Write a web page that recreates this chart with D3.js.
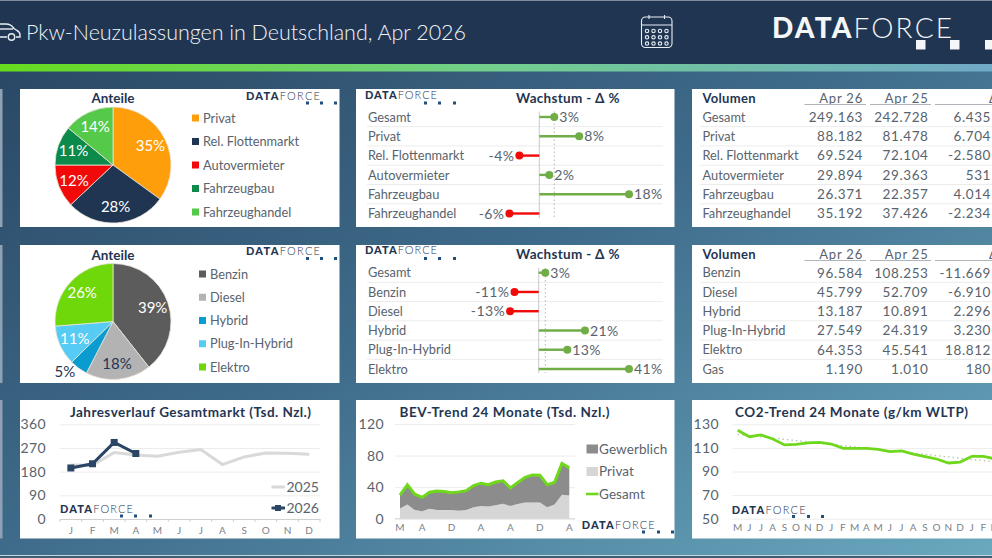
<!DOCTYPE html>
<html lang="de">
<head>
<meta charset="utf-8">
<title>Pkw-Neuzulassungen in Deutschland, Apr 2026</title>
<script src="https://cdn.jsdelivr.net/npm/d3@7/dist/d3.min.js"></script>
<style>
html,body{margin:0;padding:0;background:#1f3552;overflow:hidden}
svg{display:block}
text{font-family:Lato,"Open Sans",sans-serif}
</style>
</head>
<body>
<svg id="board" width="992" height="558"></svg>
<script>
// Market segments
const marketLabels = ["Privat","Rel. Flottenmarkt","Autovermieter","Fahrzeugbau","Fahrzeughandel"];
const marketShares = [35,28,12,11,14];
const marketColors = ["#ff9e0b","#1f3552","#f20a0a","#0b8a4b","#55c94a"];
const marketGrowthLabels = ["Gesamt","Privat","Rel. Flottenmarkt","Autovermieter","Fahrzeugbau","Fahrzeughandel"];
const marketGrowth = [3,8,-4,2,18,-6];
const marketApr26 = [249163,88182,69524,29894,26371,35192];
const marketApr25 = [242728,81478,72104,29363,22357,37426];
const marketDiff = [6435,6704,-2580,531,4014,-2234];

// Fuel types
const fuelLabels = ["Benzin","Diesel","Hybrid","Plug-In-Hybrid","Elektro"];
const fuelShares = [39,18,5,11,26];
const fuelColors = ["#5c5c5c","#b3b3b3","#0a9bd0","#56ccf5","#6fd80a"];
const fuelGrowthLabels = ["Gesamt","Benzin","Diesel","Hybrid","Plug-In-Hybrid","Elektro"];
const fuelGrowth = [3,-11,-13,21,13,41];
const fuelTableLabels = ["Benzin","Diesel","Hybrid","Plug-In-Hybrid","Elektro","Gas"];
const fuelApr26 = [96584,45799,13187,27549,64353,1190];
const fuelApr25 = [108253,52709,10891,24319,45541,1010];
const fuelDiff = [-11669,-6910,2296,3230,18812,180];

// Yearly course of the total market
const yearMonths = ["J","F","M","A","M","J","J","A","S","O","N","D"];
const total2025 = [205,204,253,243,239,254,264,207,236,251,250,246];
const total2026 = [194,210,291,249];
const totalTicks = [0,90,180,270,360];

// BEV over 24 months
const bevPrivat = [13,18,11,9.5,12.5,11,11,11,10,11,14.5,16,15.5,17,19,16,18.5,20.5,20.5,20.5,14.5,18,30.5,29.5];
const bevGewerblich = [17,25,20,17.5,21,24,23.5,22,24,24.5,27.5,29,27.5,29.5,29,23,27.5,32,35,34.5,28.5,28,39.5,34.9];
const bevGesamt = [30,43,31,27,33.5,35,34.5,33,34,35.5,42,45,43,46.5,48,39,46,52.5,55.5,55,43,46,70,64.4];
const bevTicks = [0,40,80,120];
const bevTickLabels = [["M",0],["A",3],["D",7],["A",11],["A",15],["D",19],["A",23]];

// CO2 over 24 months
const co2Months = ["M","J","J","A","S","O","N","D","J","F","M","A","M","J","J","A","S","O","N","D","J","F","M","A"];
const co2Values = [124.9,119.5,121,117.5,112.5,113,114.2,114.7,113.3,109.6,109.6,109.6,108.8,106.8,107.4,104.8,102.6,100.6,97.2,98,102.9,102.9,100.6,100];
const co2Trend = [[0,121.5],[23,97]];
const co2Ticks = [50,70,90,110,130];

const navy = "#1f3552", ink = "#59636d", rule = "#ececec", logoDots = "#1f5080";
const svg = d3.select("#board");
const defs = svg.append("defs");

const backdrop = defs.append("linearGradient").attr("id","backdrop")
  .attr("x1","0").attr("y1","0").attr("x2","1").attr("y2","1");
backdrop.append("stop").attr("offset","0").attr("stop-color","#274360");
backdrop.append("stop").attr("offset","0.5").attr("stop-color","#3f6c8b");
backdrop.append("stop").attr("offset","1").attr("stop-color","#6aa9bf");

const stripe = defs.append("linearGradient").attr("id","stripe");
stripe.append("stop").attr("offset","0").attr("stop-color","#66dc1e");
stripe.append("stop").attr("offset","0.5").attr("stop-color","#72cf8e");
stripe.append("stop").attr("offset","1").attr("stop-color","#6fa9c6");

svg.append("rect").attr("width",992).attr("height",558).attr("fill","url(#backdrop)");
svg.append("rect").attr("width",992).attr("height",64).attr("fill",navy);
svg.append("rect").attr("width",992).attr("height",1).attr("fill","#7d8b9b");
svg.append("rect").attr("y",64).attr("width",992).attr("height",7.5).attr("fill","url(#stripe)");
svg.append("rect").attr("y",555).attr("width",992).attr("height",1).attr("fill","#c7d6de");
svg.append("rect").attr("y",556).attr("width",992).attr("height",2).attr("fill","#3c5f78");

// Header
function drawCar(){
  const g = svg.append("g").attr("fill","none").attr("stroke","#e9eef3").attr("stroke-width",1.4);
  g.append("path").attr("d","M0 24 H6 Q11 24 14 28.5 L17 30.5 Q20 32 20 35 V37 H16 M7 37 H0");
  g.append("path").attr("d","M0 29 H13");
  g.append("circle").attr("cx",11.5).attr("cy",37).attr("r",3.2);
}
function drawCalendar(){
  const g = svg.append("g").attr("fill","none").attr("stroke","#e9eef3").attr("stroke-width",1.1);
  g.append("rect").attr("x",641.5).attr("y",17).attr("width",30.5).attr("height",30.5).attr("rx",4);
  g.append("path").attr("d","M641.5 25 H672 M649 15 V19 M664.5 15 V19");
  d3.range(3).forEach(r => d3.range(4).forEach(c => {
    g.append("circle").attr("cx",647 + c*6.5).attr("cy",31 + r*6.3).attr("r",1.7);
  }));
}
drawCar();
drawCalendar();
svg.append("text").attr("x",26).attr("y",40).attr("fill","#f0f3f6").attr("font-weight",300)
  .attr("font-size",21.5).attr("textLength",440).attr("lengthAdjust","spacing")
  .text("Pkw-Neuzulassungen in Deutschland, Apr 2026");

// Wordmark: heavy DATA, thin FORCE and three squares trailing under it
function logo(x, baseline, width, size, squares, squareY, square, color, dotColor){
  const t = svg.append("text").attr("x",x).attr("y",baseline).attr("fill",color)
    .attr("font-size",size).attr("textLength",width).attr("lengthAdjust","spacing");
  t.append("tspan").attr("font-weight",900).text("DATA");
  t.append("tspan").attr("font-weight",300).text("FORCE");
  svg.selectAll(null).data(squares).join("rect")
    .attr("x",d => d).attr("y",squareY).attr("width",square).attr("height",square).attr("fill",dotColor);
}

// White panels, with the neighbouring panel just peeking in at the left edge
const panelColumns = [[20,319.5],[356,318.5],[692,300]];
const panelRows = [[89,138],[245,138],[400,138.5]];
panelRows.forEach(([y,h]) => {
  svg.append("rect").attr("x",0).attr("y",y).attr("width",2.5).attr("height",h).attr("fill","#8ea2b4");
  panelColumns.forEach(([x,w]) => {
    svg.append("rect").attr("x",x).attr("y",y).attr("width",w).attr("height",h).attr("fill","#ffffff");
  });
});

logo(772,38,180,28,[916,950,985],40,9.5,"#f4f6f8","#f4f6f8");

function pie(cx, cy, labels, shares, colors, darkLabels, outsideIndex, legendX, legendY){
  const slices = d3.pie().sort(null)(shares);
  const arc = d3.arc().innerRadius(0).outerRadius(58);
  const labelArc = d3.arc().innerRadius(42).outerRadius(42);
  const outerArc = d3.arc().innerRadius(66).outerRadius(66);
  const place = (d,i) => {
    if (i !== outsideIndex) return labelArc.centroid(d);
    const [px,py] = outerArc.centroid(d);
    return [px - 9, py - 3];
  };
  const g = svg.append("g").attr("transform",`translate(${cx},${cy})`);
  g.selectAll("path").data(slices).join("path")
    .attr("d",arc).attr("fill",(d,i) => colors[i]).attr("stroke","#e9e4d8").attr("stroke-width",0.8);
  g.selectAll("text").data(slices).join("text")
    .attr("transform",(d,i) => `translate(${place(d,i)})`)
    .attr("text-anchor","middle").attr("dy","0.36em").attr("font-size",15)
    .attr("fill",(d,i) => (darkLabels.includes(i) ? navy : "#ffffff"))
    .text(d => d.data + "%");
  const lg = svg.append("g");
  const y = d3.scalePoint().domain(labels).range(legendY);
  lg.selectAll("rect").data(labels).join("rect")
    .attr("x",legendX).attr("y",d => y(d) - 3.5).attr("width",7).attr("height",7)
    .attr("fill",(d,i) => colors[i]);
  lg.selectAll("text").data(labels).join("text")
    .attr("x",legendX + 11).attr("y",d => y(d)).attr("dy","0.36em")
    .attr("font-size",12.8).attr("fill",ink).text(d => d);
  svg.append("text").attr("x",cx).attr("y",cy - 62).attr("text-anchor","middle")
    .attr("font-size",13.5).attr("font-weight",700).attr("fill",navy).text("Anteile");
}

function lollipop(labels, values, x, yRange, axisTop, axisBottom, refValue, titleY){
  const y = d3.scalePoint().domain(labels).range(yRange);
  const step = y.step();
  const g = svg.append("g");
  g.selectAll("line.sep").data(labels.slice(1)).join("line").attr("class","sep")
    .attr("x1",367).attr("x2",663).attr("y1",d => y(d) - step/2).attr("y2",d => y(d) - step/2)
    .attr("stroke",rule);
  g.selectAll("text.cat").data(labels).join("text").attr("class","cat")
    .attr("x",368).attr("y",d => y(d)).attr("dy","0.36em")
    .attr("font-size",12.8).attr("fill",ink).text(d => d);
  g.append("line").attr("x1",x(0)).attr("x2",x(0)).attr("y1",axisTop).attr("y2",axisBottom).attr("stroke","#c9c9c9");
  g.append("line").attr("x1",x(refValue)).attr("x2",x(refValue)).attr("y1",axisTop).attr("y2",axisBottom)
    .attr("stroke","#b5b5b5").attr("stroke-width",1).attr("stroke-dasharray","1.5 2.5");
  const colour = v => (v < 0 ? "#f00a0a" : "#70ad47");
  g.selectAll("line.stem").data(values).join("line").attr("class","stem")
    .attr("x1",x(0)).attr("x2",d => x(d))
    .attr("y1",(d,i) => y(labels[i])).attr("y2",(d,i) => y(labels[i]))
    .attr("stroke",colour).attr("stroke-width",2.4);
  g.selectAll("circle").data(values).join("circle")
    .attr("cx",d => x(d)).attr("cy",(d,i) => y(labels[i])).attr("r",4)
    .attr("fill",colour);
  g.selectAll("text.val").data(values).join("text").attr("class","val")
    .attr("x",d => x(d) + (d < 0 ? -5 : 5)).attr("y",(d,i) => y(labels[i])).attr("dy","0.36em")
    .attr("text-anchor",d => (d < 0 ? "end" : "start"))
    .attr("font-size",14).attr("letter-spacing",0.4).attr("fill",ink).text(d => d + "%");
  svg.append("text").attr("x",516).attr("y",titleY).attr("font-size",13.5).attr("font-weight",700)
    .attr("letter-spacing",0.3).attr("fill",navy).text("Wachstum - Δ %");
}

const de = d3.formatLocale({decimal:",",thousands:".",grouping:[3],currency:["","€"],minus:"-"});
const num = de.format(",d");

function table(labels, apr26, apr25, diff, yRange, titleY){
  const y = d3.scalePoint().domain(labels).range(yRange);
  const step = y.step();
  const g = svg.append("g");
  g.selectAll("line").data(labels.slice(1)).join("line")
    .attr("x1",700).attr("x2",992).attr("y1",d => y(d) - step/2).attr("y2",d => y(d) - step/2)
    .attr("stroke",rule);
  g.selectAll("text.row").data(labels).join("text").attr("class","row")
    .attr("x",702.5).attr("y",d => y(d)).attr("dy","0.36em")
    .attr("font-size",12.8).attr("fill",ink).text(d => d);
  [[apr26,863],[apr25,928.5],[diff,991]].forEach(([column,right]) => {
    g.selectAll(null).data(column).join("text")
      .attr("x",right).attr("y",(d,i) => y(labels[i])).attr("dy","0.36em")
      .attr("text-anchor","end").attr("font-size",13.5).attr("letter-spacing",0.6)
      .attr("fill",ink).text(d => num(d));
  });
  svg.append("text").attr("x",702.5).attr("y",titleY).attr("font-size",13).attr("font-weight",700)
    .attr("letter-spacing",0.3).attr("fill",navy).text("Volumen");
  [["Apr 26",863],["Apr 25",928.5]].forEach(([label,right]) => {
    svg.append("text").attr("x",right).attr("y",titleY).attr("text-anchor","end")
      .attr("font-size",13).attr("letter-spacing",0.8).attr("fill",ink).text(label);
  });
  svg.append("text").attr("x",989).attr("y",titleY).attr("font-size",13).attr("fill",ink).text("Δ");
  [[804.5,866],[870,931],[935,992]].forEach(([a,b]) => {
    svg.append("line").attr("x1",a).attr("x2",b).attr("y1",titleY + 1.5).attr("y2",titleY + 1.5).attr("stroke","#aeb4ba");
  });
}

// First two rows of panels
pie(113,165,marketLabels,marketShares,marketColors,[],-1,192,[118,212]);
lollipop(marketGrowthLabels,marketGrowth,d3.scaleLinear([0,18],[539.3,629]),[117,213.5],111.5,218,3,103);
table(marketGrowthLabels,marketApr26,marketApr25,marketDiff,[117,213.5],103);

pie(113,321.5,fuelLabels,fuelShares,fuelColors,[1,2],2,199,[274,367]);
lollipop(fuelGrowthLabels,fuelGrowth,d3.scaleLinear([0,41],[538.7,629]),[272.7,369],268,373,3,259);
table(fuelTableLabels,fuelApr26,fuelApr25,fuelDiff,[272.7,369],259);

logo(246,99.7,74,11,[306,320,334],101.5,3,navy,logoDots);
logo(365,99,72,11,[424,438,453],101.5,3,navy,logoDots);
logo(246,254.7,74,11,[306,320,334],257,3,navy,logoDots);
logo(365,254,72,11,[424,438,453],257,3,navy,logoDots);

// Shared y grid for the lower charts
function yGrid(y, ticks, x1, x2, labelX){
  const ax = d3.axisLeft(y).tickValues(ticks).tickSize(x2 - x1).tickPadding(x1 - labelX);
  const g = svg.append("g").attr("transform",`translate(${x2},0)`).call(ax);
  g.select(".domain").remove();
  g.selectAll("line").attr("stroke",rule);
  g.selectAll("text").attr("x",labelX - x2).attr("font-size",14).attr("fill",ink)
    .attr("font-family","Lato").attr("letter-spacing",0.4).attr("text-anchor","end");
}
function lowerTitle(x, width, text){
  svg.append("text").attr("x",x).attr("y",417).attr("font-size",13.5).attr("font-weight",700)
    .attr("textLength",width).attr("lengthAdjust","spacing").attr("fill",navy).text(text);
}

// Jahresverlauf
{
  const y = d3.scaleLinear([0,360],[519,424.3]);
  const x = d3.scaleBand().domain(d3.range(12)).range([60,320]);
  const cx = i => x(i) + x.bandwidth()/2;
  yGrid(y,totalTicks,60,320,46);
  lowerTitle(70,241,"Jahresverlauf Gesamtmarkt (Tsd. Nzl.)");
  const axis = d3.axisBottom(x).tickFormat(i => yearMonths[i]).tickSize(0).tickPadding(8);
  const g = svg.append("g").attr("transform","translate(0,519)").call(axis);
  g.select(".domain").attr("stroke","#d0d0d0");
  g.selectAll("text").attr("font-size",10).attr("fill","#7a828a").attr("font-family","Lato");
  g.selectAll("line.sepTick").data(d3.range(13)).join("line").attr("class","sepTick")
    .attr("x1",i => 60 + i*x.step()).attr("x2",i => 60 + i*x.step()).attr("y1",0).attr("y2",3).attr("stroke","#d0d0d0");
  const line = d3.line().x((d,i) => cx(i)).y(d => y(d));
  svg.append("path").attr("d",line(total2025)).attr("fill","none").attr("stroke","#d9d9d9").attr("stroke-width",3);
  svg.append("path").attr("d",line(total2026)).attr("fill","none").attr("stroke","#2b4564").attr("stroke-width",3);
  svg.selectAll(null).data(total2026).join("rect")
    .attr("x",(d,i) => cx(i) - 3.5).attr("y",d => y(d) - 3.5).attr("width",7).attr("height",7).attr("fill","#2b4564");
  [["2025",487,"#d9d9d9"],["2026",508,"#2b4564"]].forEach(([label,ly,c]) => {
    svg.append("line").attr("x1",271.5).attr("x2",285).attr("y1",ly).attr("y2",ly).attr("stroke",c).attr("stroke-width",3);
    svg.append("text").attr("x",286.5).attr("y",ly).attr("dy","0.36em").attr("font-size",14)
      .attr("fill",ink).text(label);
  });
  svg.append("rect").attr("x",275).attr("y",505).attr("width",6).attr("height",6).attr("fill","#2b4564");
  logo(60,513.3,73,11,[120,134,149],514.5,3,navy,logoDots);
}

// BEV-Trend
{
  const y = d3.scaleLinear([0,120],[518.7,424]);
  const x = d3.scalePoint().domain(d3.range(24)).range([400,569.3]);
  yGrid(y,bevTicks,395,575,384);
  lowerTitle(399.5,210,"BEV-Trend 24 Monate (Tsd. Nzl.)");
  svg.append("line").attr("x1",395).attr("x2",575).attr("y1",518.7).attr("y2",518.7).attr("stroke","#d9d9d9");
  const rows = bevPrivat.map((p,i) => ({i, Privat:p, Gewerblich:bevGewerblich[i]}));
  const stack = d3.stack().keys(["Privat","Gewerblich"])(rows);
  const area = d3.area().x(d => x(d.data.i)).y0(d => y(d[0])).y1(d => y(d[1]));
  svg.selectAll("path.band").data(stack).join("path").attr("class","band")
    .attr("d",area).attr("fill",(d,i) => ["#d6d6d6","#8c8c8c"][i]);
  svg.append("path").attr("fill","none").attr("stroke","#6fd81c").attr("stroke-width",3)
    .attr("d",d3.line().x((d,i) => x(i)).y(d => y(d))(bevGesamt));
  svg.selectAll(null).data(bevTickLabels).join("text")
    .attr("x",d => x(d[1])).attr("y",531).attr("text-anchor","middle")
    .attr("font-size",10).attr("fill","#7a828a").text(d => d[0]);
  [["Gewerblich",449,"#8c8c8c"],["Privat",471.5,"#d6d6d6"]].forEach(([label,ly,c]) => {
    svg.append("rect").attr("x",586.5).attr("y",ly - 4.5).attr("width",11.5).attr("height",9).attr("fill",c);
    svg.append("text").attr("x",599).attr("y",ly).attr("dy","0.36em").attr("font-size",13.5)
      .attr("letter-spacing",0.1).attr("fill",ink).text(label);
  });
  svg.append("line").attr("x1",586).attr("x2",598.5).attr("y1",494).attr("y2",494).attr("stroke","#6fd81c").attr("stroke-width",2.6);
  svg.append("text").attr("x",599).attr("y",494).attr("dy","0.36em").attr("font-size",13.5)
    .attr("letter-spacing",0.1).attr("fill",ink).text("Gesamt");
  logo(581.7,529,73,11,[642,657,671],530.5,3,navy,logoDots);
}

// CO2-Trend
{
  const y = d3.scaleLinear([50,130],[518.7,424.3]);
  const x = d3.scalePoint().domain(d3.range(24)).range([737.7,1007]);
  yGrid(y,co2Ticks,732.5,1010,719);
  lowerTitle(735,233,"CO2-Trend 24 Monate (g/km WLTP)");
  svg.append("path").attr("fill","none").attr("stroke","#b9c7a6").attr("stroke-width",1.4).attr("stroke-dasharray","1.5 3")
    .attr("d",d3.line().x(d => x(d[0])).y(d => y(d[1]))(co2Trend));
  svg.append("path").attr("fill","none").attr("stroke","#6fd81c").attr("stroke-width",2.8)
    .attr("d",d3.line().x((d,i) => x(i)).y(d => y(d))(co2Values));
  svg.selectAll(null).data(co2Months).join("text")
    .attr("x",(d,i) => x(i)).attr("y",531).attr("text-anchor","middle")
    .attr("font-size",10).attr("letter-spacing",0.3).attr("fill","#7a828a").text(d => d);
  logo(731.7,514,74,11,[792,807,821],515,3,navy,logoDots);
}
</script>
</body>
</html>
